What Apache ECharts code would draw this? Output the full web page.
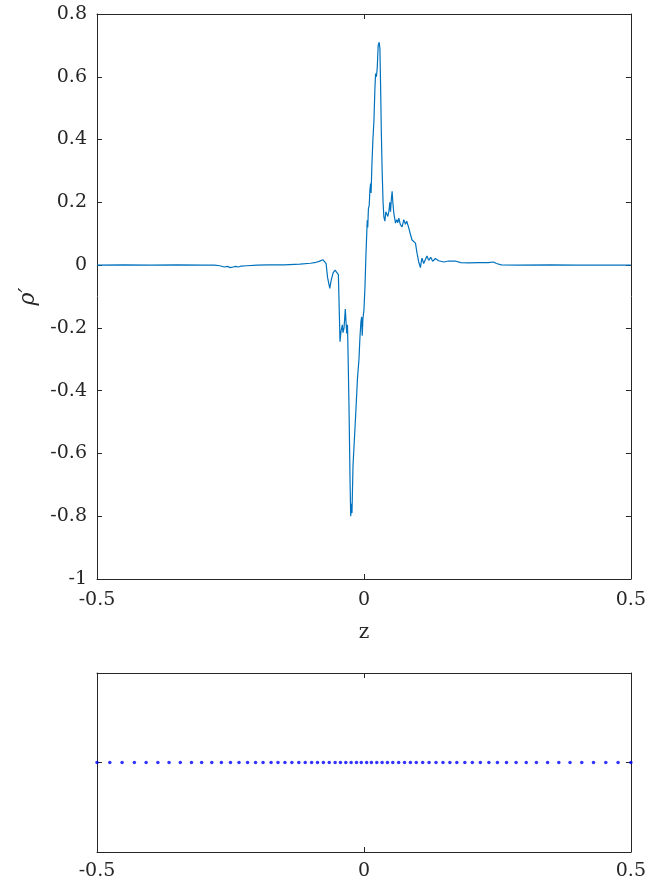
<!DOCTYPE html>
<html>
<head>
<meta charset="utf-8">
<script src="https://cdn.jsdelivr.net/npm/echarts@6/dist/echarts.min.js"></script>
<style>html,body{margin:0;padding:0;background:#fff}#c{width:649px;height:888px}</style>
</head>
<body>
<div id="c"></div>
<script>
// Main profile: z positions and rho' values
const zProfile = [-0.5,-0.45,-0.4,-0.35,-0.3,-0.28,-0.27,-0.262,-0.256,-0.25,-0.245,-0.24,-0.235,-0.23,-0.22,-0.2,-0.18,-0.15,-0.12,-0.1,-0.09,
  -0.084,-0.0765,-0.0728,-0.0709,-0.0681,-0.064,-0.0616,-0.0578,-0.0541,-0.0513,-0.0479,-0.0466,-0.0448,-0.0429,-0.0405,-0.0392,-0.0373,-0.0349,-0.0336,-0.0323,-0.0308,-0.0299,
  -0.028,-0.0261,-0.0248,-0.0237,-0.0224,-0.0205,-0.0187,-0.0168,-0.0144,-0.0121,-0.0093,-0.0075,-0.0056,-0.0043,-0.0032,-0.0019,0,0.0019,0.0037,0.005,0.0062,0.0071,0.0084,0.0099,0.0112,0.0125,0.0134,0.0149,0.0168,0.0187,0.0205,0.0218,0.0233,0.0248,0.0267,0.0285,0.0299,0.0312,0.0326,0.0341,0.0358,0.0373,0.0392,0.041,0.0435,0.0448,0.0466,0.0485,0.0498,0.0513,0.0528,0.0541,0.056,0.0591,0.0616,0.0634,0.0653,0.0681,0.0715,0.0746,0.0778,0.0802,0.084,0.0868,0.0901,0.0933,0.0965,0.0994,0.1026,0.1058,0.1073,0.1088,0.1119,0.1151,0.1181,0.1213,0.125,0.1287,0.1338,0.1399,0.1493,0.1586,0.1711,0.181,0.1959,0.2146,0.2332,0.2425,0.2481,0.2575,0.289,0.35,0.4,0.45,0.5];
const rhoProfile = [0,0.001,0,0.001,0,0,-0.002,-0.006,-0.004,-0.008,-0.006,-0.004,-0.006,-0.003,-0.002,0,0.001,0.001,0.003,0.006,0.009,
  0.012,0.017,0.021,0.005,-0.04,-0.074,-0.05,-0.025,-0.016,-0.02,-0.03,-0.12,-0.244,-0.21,-0.19,-0.215,-0.2,-0.14,-0.18,-0.218,-0.19,-0.27,
  -0.45,-0.68,-0.8,-0.76,-0.79,-0.64,-0.58,-0.52,-0.44,-0.36,-0.3,-0.23,-0.18,-0.165,-0.225,-0.17,-0.143,-0.07,0.03,0.09,0.143,0.12,0.18,0.19,0.24,0.26,0.23,0.32,0.4,0.46,0.56,0.61,0.6,0.625,0.7,0.71,0.69,0.57,0.42,0.3,0.2,0.154,0.14,0.17,0.175,0.155,0.17,0.2,0.17,0.21,0.235,0.2,0.165,0.134,0.145,0.135,0.15,0.13,0.122,0.145,0.13,0.14,0.118,0.1,0.08,0.075,0.07,0.038,0.01,-0.008,0.01,0.022,0.005,0.018,0.029,0.015,0.025,0.012,0.021,0.014,0.01,0.013,0.013,0.008,0.007,0.008,0.008,0.01,0.005,0.001,0,0.001,0,0,0];
// Grid points (bottom panel)
const zGrid = [-0.5,-0.476,-0.453,-0.430,-0.408,-0.386,-0.365,-0.344,-0.323,-0.304,-0.285,-0.267,-0.250,-0.234,-0.218,-0.203,-0.189,-0.174,-0.161,-0.148,-0.135,-0.122,-0.110,-0.098,-0.087,-0.076,-0.065,-0.054,-0.044,-0.034,-0.024,-0.014,-0.005,
  0.005,0.014,0.024,0.034,0.044,0.054,0.065,0.076,0.087,0.098,0.110,0.122,0.135,0.148,0.161,0.174,0.189,0.203,0.218,0.234,0.250,0.267,0.285,0.304,0.323,0.344,0.365,0.386,0.408,0.430,0.453,0.476,0.5];
const xTicks = [-0.5, 0, 0.5];
const yTicks = [-1, -0.8, -0.6, -0.4, -0.2, 0, 0.2, 0.4, 0.6, 0.8];

const FONT = 'DejaVu Serif';
const AX = '#262626';
const lblStyle = {color: AX, fontFamily: FONT, fontSize: 19};
function boxAxis(extra){
  return Object.assign({
    axisLine: {show: true, onZero: false, lineStyle: {color: AX, width: 1}},
    axisTick: {show: true, inside: true, length: 5, lineStyle: {color: AX}},
    splitLine: {show: false}
  }, extra);
}
const chart = echarts.init(document.getElementById('c'), null, {renderer: 'canvas'});
chart.setOption({
  animation: false,
  backgroundColor: '#fff',
  grid: [
    {left: 97, right: 16, top: 14, height: 565},
    {left: 97, right: 16, top: 673, height: 179}
  ],
  xAxis: [
    boxAxis({type: 'value', gridIndex: 0, min: -0.5, max: 0.5, interval: 0.5, position: 'bottom',
      axisLabel: Object.assign({margin: 12, formatter: v => String(v)}, lblStyle),
      name: 'z', nameLocation: 'middle', nameGap: 44, nameTextStyle: {color: AX, fontFamily: FONT, fontSize: 20}}),
    boxAxis({type: 'value', gridIndex: 0, min: -0.5, max: 0.5, interval: 0.5, position: 'top', axisLabel: {show: false}}),
    boxAxis({type: 'value', gridIndex: 1, min: -0.5, max: 0.5, interval: 0.5, position: 'bottom',
      axisLabel: Object.assign({margin: 10, formatter: v => String(v)}, lblStyle)}),
    boxAxis({type: 'value', gridIndex: 1, min: -0.5, max: 0.5, interval: 0.5, position: 'top', axisLabel: {show: false}})
  ],
  yAxis: [
    boxAxis({type: 'value', gridIndex: 0, min: -1, max: 0.8, interval: 0.2, position: 'left',
      axisLabel: Object.assign({margin: 10, formatter: v => String(Math.round(v*10)/10)}, lblStyle),
      name: 'ρ′', nameLocation: 'middle', nameGap: 52, nameRotate: 90,
      nameTextStyle: {color: AX, fontFamily: FONT, fontSize: 22, fontStyle: 'italic'}}),
    boxAxis({type: 'value', gridIndex: 0, min: -1, max: 0.8, interval: 0.2, position: 'right', axisLabel: {show: false}}),
    boxAxis({type: 'value', gridIndex: 1, min: -1, max: 1, interval: 1, position: 'left', axisLabel: {show: false}}),
    boxAxis({type: 'value', gridIndex: 1, min: -1, max: 1, interval: 1, position: 'right', axisLabel: {show: false}})
  ],
  series: [
    {type: 'line', xAxisIndex: 0, yAxisIndex: 0, showSymbol: false, symbol: 'none',
      lineStyle: {color: '#0072BD', width: 1.2}, data: zProfile.map((z, i) => [z, rhoProfile[i]])},
    {type: 'scatter', xAxisIndex: 2, yAxisIndex: 2, symbol: 'circle', symbolSize: 3.5,
      itemStyle: {color: '#0000FF'}, data: zGrid.map(z => [z, 0])}
  ]
});
</script>
</body>
</html>
